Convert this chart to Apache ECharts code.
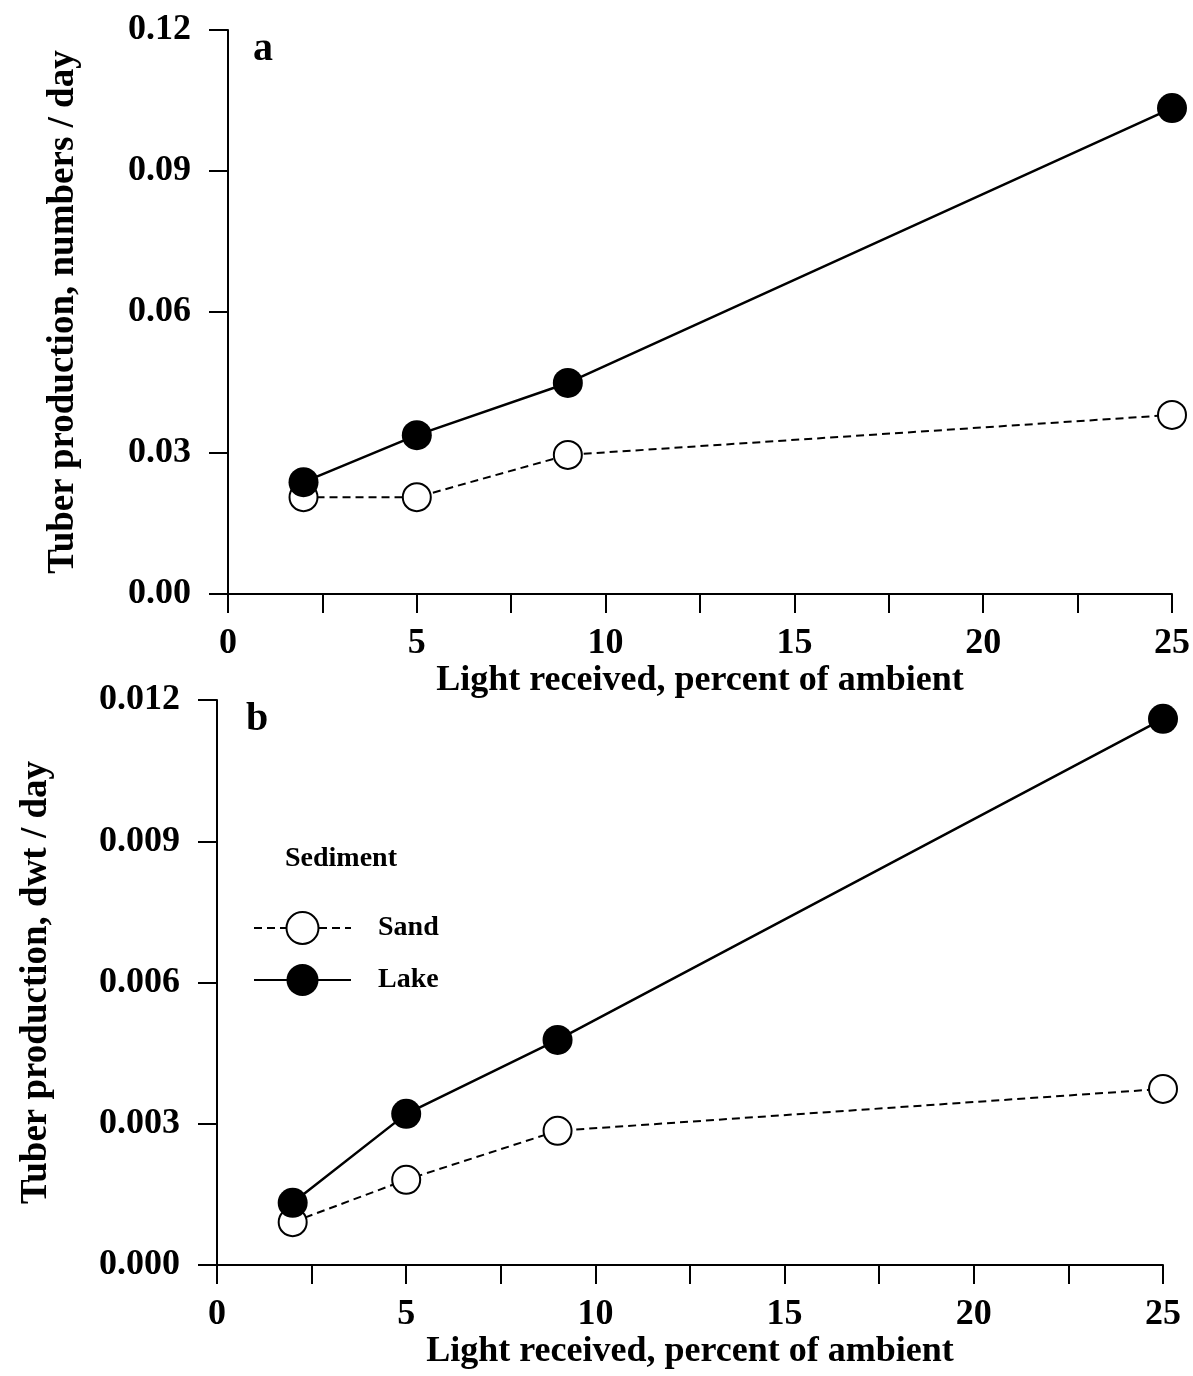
<!DOCTYPE html>
<html>
<head>
<meta charset="utf-8">
<script src="https://cdn.jsdelivr.net/npm/echarts@6/dist/echarts.min.js"></script>
<style>
  html, body { margin: 0; padding: 0; background: #fff; }
  #main { width: 1193px; height: 1376px; }
</style>
</head>
<body>
<div id="main"></div>
<script>
// light received, percent of ambient
var light = [2, 5, 9, 25];
// panel a: tuber numbers / day
var sandNum = [0.0206, 0.0206, 0.0296, 0.0381];
var lakeNum = [0.0238, 0.0338, 0.0449, 0.1034];
// panel b: tuber dwt / day
var sandDwt = [0.00091, 0.00181, 0.00285, 0.00374];
var lakeDwt = [0.00132, 0.00321, 0.00478, 0.0116];

var yTicksA = { min: 0, max: 0.12, step: 0.03, digits: 2 };
var yTicksB = { min: 0, max: 0.012, step: 0.003, digits: 3 };

var FONT = '"Liberation Serif", "Times New Roman", serif';

function pairs(xs, ys) {
	var out = [];
	for (let i = 0; i < xs.length; i++) {
		out.push([xs[i], ys[i]]);
	}
	return out;
}

function xAxisOpt(idx) {
	return {
		gridIndex: idx,
		type: 'value',
		min: 0,
		max: 25,
		interval: 2.5,
		name: 'Light received, percent of ambient',
		nameLocation: 'middle',
		nameGap: 68,
		nameTextStyle: { fontFamily: FONT, fontSize: 36, fontWeight: 'bold', color: '#000' },
		splitLine: { show: false },
		axisLine: { onZero: false, lineStyle: { color: '#000', width: 2 } },
		axisTick: { inside: false, length: 19, lineStyle: { color: '#000', width: 2 } },
		axisLabel: {
			margin: 32,
			fontFamily: FONT, fontSize: 36, fontWeight: 'bold', color: '#000',
			formatter: function (v) { return v % 5 === 0 ? String(v) : ''; }
		}
	};
}

function yAxisOpt(idx, t, name, gap) {
	return {
		gridIndex: idx,
		type: 'value',
		min: t.min,
		max: t.max,
		interval: t.step,
		name: name,
		nameLocation: 'middle',
		nameGap: gap,
		nameTextStyle: { fontFamily: FONT, fontSize: 37, fontWeight: 'bold', color: '#000' },
		splitLine: { show: false },
		axisLine: { onZero: false, lineStyle: { color: '#000', width: 2 } },
		axisTick: { inside: false, length: 19, lineStyle: { color: '#000', width: 2 } },
		axisLabel: {
			margin: 37,
			fontFamily: FONT, fontSize: 36, fontWeight: 'bold', color: '#000',
			formatter: function (v) { return v.toFixed(t.digits); }
		}
	};
}

function sandSeries(idx, data) {
	return {
		name: 'Sand',
		type: 'line',
		xAxisIndex: idx, yAxisIndex: idx,
		data: data,
		symbol: 'circle',
		symbolSize: 28,
		itemStyle: { color: '#fff', borderColor: '#000', borderWidth: 2 },
		lineStyle: { color: '#000', width: 2, type: [8, 5] },
		z: 2
	};
}

function lakeSeries(idx, data) {
	return {
		name: 'Lake',
		type: 'line',
		xAxisIndex: idx, yAxisIndex: idx,
		data: data,
		symbol: 'circle',
		symbolSize: 30,
		itemStyle: { color: '#000' },
		lineStyle: { color: '#000', width: 2.5 },
		z: 3
	};
}

var chart = echarts.init(document.getElementById('main'), null, { renderer: 'canvas' });

var option = {
	backgroundColor: '#fff',
	animation: false,
	grid: [
		{ left: 228, top: 30, width: 945, height: 564 },
		{ left: 217, top: 700, width: 946, height: 565 }
	],
	xAxis: [xAxisOpt(0), xAxisOpt(1)],
	yAxis: [
		yAxisOpt(0, yTicksA, 'Tuber production, numbers / day', 146),
		yAxisOpt(1, yTicksB, 'Tuber production, dwt / day', 162)
	],
	legend: {
		orient: 'vertical',
		left: 248,
		top: 906,
		itemWidth: 97,
		itemHeight: 40,
		itemGap: 19,
		data: ['Sand', 'Lake'],
		textStyle: { fontFamily: FONT, fontSize: 28, fontWeight: 'bold', color: '#000', padding: [0, 0, 0, 22] }
	},
	graphic: [
		{ type: 'text', left: 253, top: 30, style: { text: 'a', font: 'bold 40px ' + FONT, fill: '#000' } },
		{ type: 'text', left: 246, top: 700, style: { text: 'b', font: 'bold 40px ' + FONT, fill: '#000' } },
		{ type: 'text', left: 285, top: 845, style: { text: 'Sediment', font: 'bold 28px ' + FONT, fill: '#000' } }
	],
	series: [
		sandSeries(0, pairs(light, sandNum)),
		lakeSeries(0, pairs(light, lakeNum)),
		sandSeries(1, pairs(light, sandDwt)),
		lakeSeries(1, pairs(light, lakeDwt))
	]
};

chart.setOption(option);
</script>
</body>
</html>
